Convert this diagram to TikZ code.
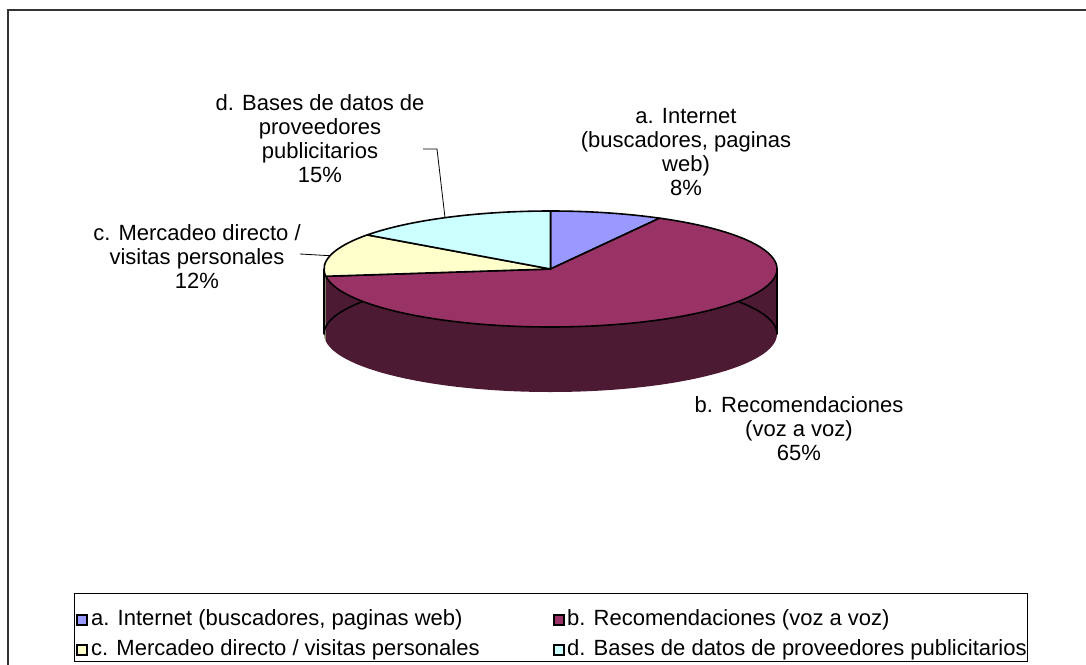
\documentclass[tikz,border=0pt]{standalone}
\usepackage{fontspec}
\setmainfont{Liberation Sans}
\usepackage{tikz}

\definecolor{sliceA}{HTML}{9999FF}
\definecolor{sliceB}{HTML}{993366}
\definecolor{sliceBside}{HTML}{4C1A33}
\definecolor{sliceC}{HTML}{FFFFCC}
\definecolor{sliceCside}{HTML}{808066}
\definecolor{sliceD}{HTML}{CCFFFF}
\definecolor{framegray}{HTML}{333333}

\begin{document}
\begin{tikzpicture}[x=1pt,y=1pt,yscale=-1,xscale=1,
  slicelabel/.style={inner sep=0pt,align=center,font=\fontsize{22}{24}\selectfont},
  legendtext/.style={anchor=west,inner sep=0pt,font=\fontsize{22}{24}\selectfont},
  legendkey/.style={draw=black,line width=1.2pt,minimum size=10pt,inner sep=0pt},
  pie arc/.style={x radius=226.5,y radius=58},
  pieedge/.style={draw=black,line width=1.6pt,line join=round}]
\useasboundingbox (0,0) rectangle (1086,664);

%Shape: Rectangle [chart frame]
\draw [framegray,line width=2pt] (8,10) rectangle (1100,680);

%Shape: Side of slice b
\fill [sliceBside] (777,269) -- (777,334) arc[start angle=0,end angle=172.8,pie arc] -- (325.79,276.27) arc[start angle=172.8,end angle=0,pie arc] -- cycle;
%Shape: Side of slice c
\fill [sliceCside] (324,269) -- (324,334) arc[start angle=180,end angle=172.8,pie arc] -- (325.79,276.27) arc[start angle=172.8,end angle=180,pie arc] -- cycle;
%Shape: Side outline
\draw [pieedge] (324,269) -- (324,334) arc[start angle=180,end angle=360,pie arc] -- (777,269);

%Shape: Slice a
\draw [pieedge,fill=sliceA] (550.5,269) -- (550.5,211) arc[start angle=270,end angle=298.8,pie arc] -- cycle;
%Shape: Slice b
\draw [pieedge,fill=sliceB] (550.5,269) -- (659.62,218.17) arc[start angle=-61.2,end angle=172.8,pie arc] -- cycle;
%Shape: Slice c
\draw [pieedge,fill=sliceC] (550.5,269) -- (325.79,276.27) arc[start angle=172.8,end angle=216,pie arc] -- cycle;
%Shape: Slice d
\draw [pieedge,fill=sliceD] (550.5,269) -- (367.26,234.91) arc[start angle=216,end angle=270,pie arc] -- cycle;

% Text Node
\node (lblA) at (686,152.5) [slicelabel] {a. Internet\\(buscadores, paginas\\web)\\8\%};
% Text Node
\node (lblB) at (799,428.5) [slicelabel] {b. Recomendaciones\\(voz a voz)\\65\%};
% Text Node
\node (lblC) at (197,257) [slicelabel] {c. Mercadeo directo /\\visitas personales\\12\%};
% Text Node
\node (lblD) at (320,138.5) [slicelabel] {d. Bases de datos de\\proveedores\\publicitarios\\15\%};

%Straight Lines [leader d]
\coordinate (dlead) at (423,149);
\coordinate (dknee) at (437,149);
\coordinate (drim) at (445,217.7);
\draw [line width=0.8pt] (dlead) -- (dknee) -- (drim);
%Straight Lines [leader c]
\coordinate (clead) at (300,254);
\coordinate (crim) at (330,255.7);
\draw [line width=0.8pt] (clead) -- (crim);

%Shape: Rectangle [legend]
\draw [black,line width=1pt] (74,593) rectangle (1027,661);
% Legend entries
\node (keyA) at (82,620) [legendkey,fill=sliceA] {};
\node (legA) at (91,620) [legendtext] {a. Internet (buscadores, paginas web)};
\node (keyB) at (559,620) [legendkey,fill=sliceB] {};
\node (legB) at (567,620) [legendtext] {b. Recomendaciones (voz a voz)};
\node (keyC) at (82,650) [legendkey,fill=sliceC] {};
\node (legC) at (91,650) [legendtext] {c. Mercadeo directo / visitas personales};
\node (keyD) at (559,650) [legendkey,fill=sliceD] {};
\node (legD) at (567,650) [legendtext] {d. Bases de datos de proveedores publicitarios};

\end{tikzpicture}
\end{document}
